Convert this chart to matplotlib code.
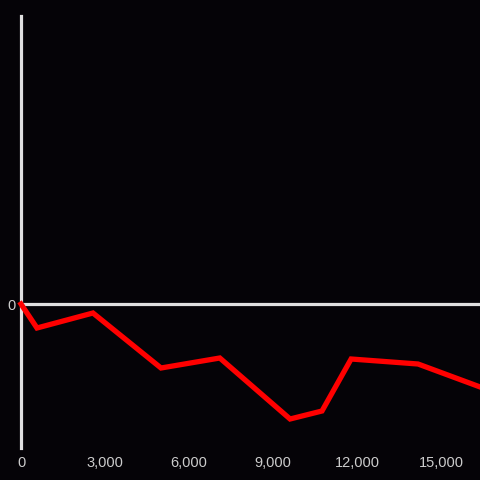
import matplotlib
matplotlib.use("Agg")
import matplotlib.pyplot as plt

x_vals = [0, 570, 2570, 5000, 7100, 9610, 10750, 11790, 14180, 16400]
y_vals = [0, -24, -9, -64, -54, -115, -107, -55, -60, -83]
x_ticks = [0, 3000, 6000, 9000, 12000, 15000]
x_tick_labels = ["0", "3,000", "6,000", "9,000", "12,000", "15,000"]
y_ticks = [0]
y_tick_labels = ["0"]

bg = "#050307"
fig = plt.figure(figsize=(4.8, 4.8), dpi=100, facecolor=bg)
ax = fig.add_axes([21/480, 32/480, 459/480, 432/480], facecolor=bg)
ax.set_xlim(0, 459/28*1000)
ax.set_ylim(-144, 288)
for s in ax.spines.values():
    s.set_visible(False)

ax.axhline(0, color="#e0e0e0", lw=2.3, clip_on=False, zorder=2)
ax.axvline(0, color="#e0e0e0", lw=2.3, clip_on=False, zorder=2)
ax.plot(x_vals, y_vals, color="#ff0000", lw=3.8, solid_joinstyle="miter", zorder=3, clip_on=False)

ax.set_xticks(x_ticks)
ax.set_xticklabels(x_tick_labels)
ax.set_yticks(y_ticks)
ax.set_yticklabels(y_tick_labels)
ax.tick_params(length=0, colors="#cccccc", labelsize=10.5, pad=6)
ax.tick_params(axis="y", pad=4)
for lab in ax.get_xticklabels() + ax.get_yticklabels():
    lab.set_family("Liberation Sans")

fig.savefig("out.png", dpi=100, facecolor=bg)
